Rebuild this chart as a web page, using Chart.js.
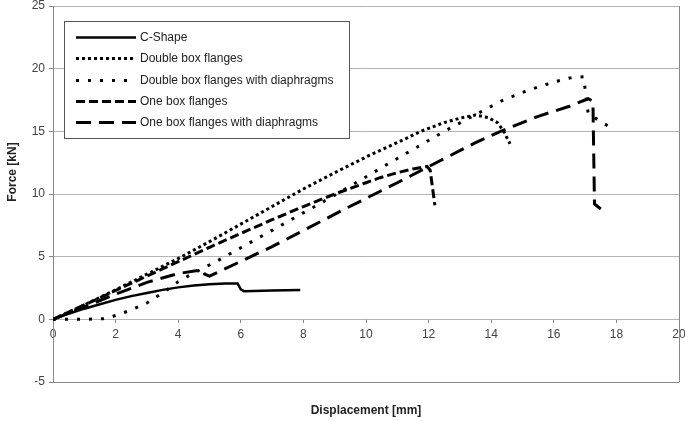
<!DOCTYPE html>
<html>
<head>
<meta charset="utf-8">
<title>Force vs displacement</title>
<script src="https://cdn.jsdelivr.net/npm/chart.js@4"></script>
<style>
  html, body { margin: 0; padding: 0; background: #fff; }
  canvas { display: block; }
</style>
</head>
<body>
<canvas id="chart" width="685" height="421"></canvas>
<script>
// displacement [mm] / force [kN]
const cShapeX = [0, 0.5, 1, 1.5, 2, 2.5, 3, 3.5, 4, 4.5, 5, 5.5, 5.9, 6.0, 6.1, 7.0, 7.9];
const cShapeY = [0, 0.45, 0.85, 1.2, 1.55, 1.85, 2.1, 2.35, 2.55, 2.7, 2.8, 2.85, 2.85, 2.4, 2.25, 2.3, 2.35];

const doubleBoxX = [0, 1, 2, 3, 4, 5, 6, 7, 8, 9, 10, 11, 11.75, 12.5, 13, 13.5, 13.9, 14.2, 14.4, 14.6];
const doubleBoxY = [0, 1.15, 2.35, 3.6, 4.85, 6.2, 7.6, 9.0, 10.4, 11.7, 12.95, 14.1, 15.0, 15.7, 16.05, 16.3, 16.1, 15.7, 15.0, 14.0];

const doubleBoxDiaX = [0, 0.5, 1, 1.6, 2, 2.5, 3, 3.5, 4, 4.5, 5.2, 7, 9, 10.7, 12.5, 14.3, 15.2, 16.1, 16.5, 16.95, 17.0, 17.1, 17.75];
const doubleBoxDiaY = [0, 0, 0, 0.05, 0.3, 0.75, 1.3, 2.1, 3.0, 3.7, 4.6, 7.1, 9.9, 12.4, 15.0, 17.4, 18.3, 19.0, 19.25, 19.35, 18.4, 16.4, 15.4];

const oneBoxX = [0, 1, 2, 3, 4, 5, 6, 7, 8, 9, 10, 10.45, 11, 11.5, 11.95, 12.05, 12.2];
const oneBoxY = [0, 1.15, 2.3, 3.45, 4.6, 5.75, 6.85, 7.95, 9.0, 10.0, 10.9, 11.3, 11.7, 12.0, 12.2, 11.9, 9.1];

const oneBoxDiaX = [0, 1, 2, 3, 4, 4.75, 4.85, 5.0, 7, 9.4, 11, 13.5, 14.3, 15.5, 16.5, 17.1, 17.25, 17.3, 17.5];
const oneBoxDiaY = [0, 1.0, 2.0, 2.95, 3.65, 3.95, 3.6, 3.45, 5.8, 8.9, 10.9, 14.1, 15.0, 16.2, 17.0, 17.6, 17.4, 9.2, 8.8];

const seriesNames = ['C-Shape', 'Double box flanges', 'Double box flanges with diaphragms', 'One box flanges', 'One box flanges with diaphragms'];

const xTicks = { min: 0, max: 20, step: 2 };
const yTicks = { min: -5, max: 25, step: 5 };
const xTitleText = 'Displacement [mm]';
const yTitleText = 'Force [kN]';

const toPoints = (xs, ys) => xs.map((x, i) => ({ x: x, y: ys[i] }));

const lineStyle = (label, xs, ys, width, dash) => ({
    label: label,
    data: toPoints(xs, ys),
    borderColor: '#000',
    backgroundColor: '#000',
    borderWidth: width,
    borderDash: dash,
    pointRadius: 0,
    tension: 0,
    fill: false
});

// boxed legend in the upper left of the plot, like the original
const boxLegend = {
    id: 'boxLegend',
    afterDatasetsDraw(chart, args, opts) {
        const { ctx, chartArea } = chart;
        const x = chartArea.left + opts.offsetX;
        const y = chartArea.top + opts.offsetY;
        ctx.save();
        ctx.fillStyle = '#fff';
        ctx.fillRect(x, y, opts.width, opts.height);
        ctx.strokeStyle = '#555';
        ctx.lineWidth = 1;
        ctx.strokeRect(x + 0.5, y + 0.5, opts.width, opts.height);
        ctx.font = '12px "Liberation Sans", Arial, sans-serif';
        ctx.textBaseline = 'middle';
        chart.data.datasets.forEach((ds, i) => {
            const cy = Math.round(y + opts.firstRow + i * opts.rowGap) + 0.5;
            ctx.setLineDash(ds.borderDash || []);
            ctx.lineWidth = ds.borderWidth;
            ctx.strokeStyle = ds.borderColor;
            ctx.beginPath();
            ctx.moveTo(x + opts.lineStart, cy);
            ctx.lineTo(x + opts.lineStart + opts.lineLen, cy);
            ctx.stroke();
            ctx.setLineDash([]);
            ctx.fillStyle = '#222';
            ctx.fillText(ds.label, x + opts.textStart, cy);
        });
        ctx.restore();
    }
};

// right and bottom frame of the plot area, plus the y title (sits above centre in the original)
const plotFrame = {
    id: 'plotFrame',
    beforeDatasetsDraw(chart) {
        const { ctx, chartArea } = chart;
        ctx.save();
        ctx.strokeStyle = '#888';
        ctx.lineWidth = 1;
        ctx.beginPath();
        ctx.moveTo(Math.round(chartArea.right) + 0.5, chartArea.top);
        ctx.lineTo(Math.round(chartArea.right) + 0.5, chartArea.bottom);
        ctx.moveTo(chartArea.left, Math.round(chartArea.bottom) + 0.5);
        ctx.lineTo(chartArea.right, Math.round(chartArea.bottom) + 0.5);
        ctx.stroke();

        ctx.translate(13, 172);
        ctx.rotate(-Math.PI / 2);
        ctx.font = 'bold 12px "Liberation Sans", Arial, sans-serif';
        ctx.fillStyle = '#222';
        ctx.textAlign = 'center';
        ctx.textBaseline = 'middle';
        ctx.fillText(yTitleText, 0, 0);
        ctx.restore();
    }
};

const tickFont = { family: '"Liberation Sans", Arial, sans-serif', size: 12, lineHeight: 1 };
const titleFont = { family: '"Liberation Sans", Arial, sans-serif', size: 12, weight: 'bold', lineHeight: 1.2 };

new Chart(document.getElementById('chart'), {
    type: 'line',
    data: {
        datasets: [
            lineStyle(seriesNames[0], cShapeX, cShapeY, 2.5, []),
            lineStyle(seriesNames[1], doubleBoxX, doubleBoxY, 3, [3, 3]),
            lineStyle(seriesNames[2], doubleBoxDiaX, doubleBoxDiaY, 3, [3, 9]),
            lineStyle(seriesNames[3], oneBoxX, oneBoxY, 3, [9, 4]),
            lineStyle(seriesNames[4], oneBoxDiaX, oneBoxDiaY, 3, [15, 8])
        ]
    },
    options: {
        responsive: false,
        animation: false,
        layout: { padding: { left: 0, right: 0, top: 0, bottom: 0 } },
        plugins: {
            legend: { display: false },
            tooltip: { enabled: false },
            boxLegend: {
                offsetX: 11, offsetY: 15, width: 285, height: 117,
                firstRow: 15.7, rowGap: 21.4, lineStart: 12, lineLen: 60, textStart: 76
            }
        },
        scales: {
            x: {
                type: 'linear',
                position: { y: 0 },
                min: xTicks.min,
                max: xTicks.max,
                ticks: { stepSize: xTicks.step, color: '#444', font: tickFont, padding: 5 },
                grid: { display: true, drawOnChartArea: false, drawTicks: true, tickLength: 4, tickColor: '#888' },
                border: { display: false },
                afterFit(scale) { scale.paddingLeft = 0; scale.paddingRight = 6; }
            },
            xTitle: {
                type: 'linear',
                axis: 'x',
                position: 'bottom',
                min: xTicks.min,
                max: xTicks.max,
                ticks: { display: false },
                grid: { display: false, drawTicks: false },
                border: { display: false },
                title: { display: true, text: xTitleText, color: '#222', font: titleFont, padding: { top: 21.6, bottom: 3 } },
                afterFit(scale) { scale.height = 39; scale.paddingLeft = 0; scale.paddingRight = 0; }
            },
            y: {
                type: 'linear',
                position: 'left',
                min: yTicks.min,
                max: yTicks.max,
                ticks: { stepSize: yTicks.step, color: '#444', font: tickFont, padding: 4 },
                grid: { color: '#b3b3b3', tickColor: '#888', tickLength: 4 },
                border: { display: true, color: '#888' },
                afterFit(scale) { scale.width = 53; scale.paddingTop = 6; scale.paddingBottom = 0; }
            }
        }
    },
    plugins: [plotFrame, boxLegend]
});
</script>
</body>
</html>
